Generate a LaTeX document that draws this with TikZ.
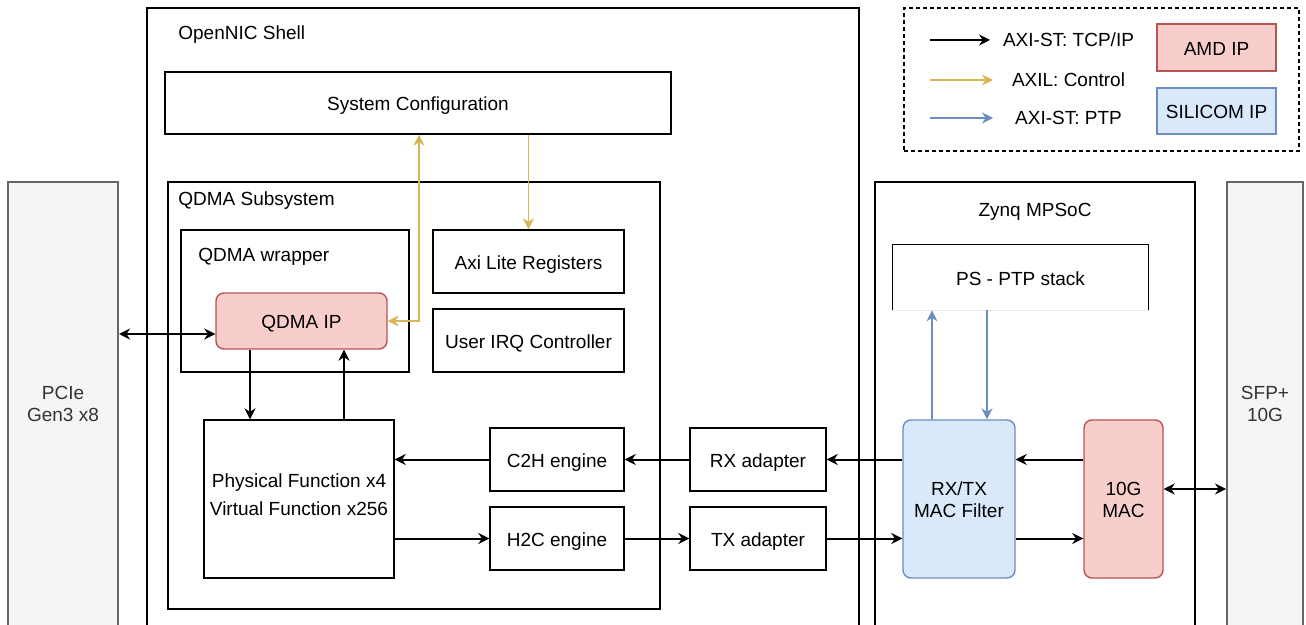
\documentclass[tikz,border=0pt]{standalone}
\usepackage{fontspec}
\setmainfont{Liberation Sans}
\usetikzlibrary{arrows.meta}
\definecolor{amdfill}{HTML}{F8CECC}
\definecolor{amdline}{HTML}{B85450}
\definecolor{silfill}{HTML}{DAE8FC}
\definecolor{silline}{HTML}{6C8EBF}
\definecolor{ctlline}{HTML}{D6B656}
\definecolor{portfill}{HTML}{F5F5F5}
\definecolor{portline}{HTML}{666666}
\definecolor{porttext}{HTML}{333333}
\begin{document}
\begin{tikzpicture}[x=0.5pt,y=-0.5pt,>={Stealth[length=5.5pt,width=5.5pt]},font=\fontsize{9.5}{11}\selectfont,
		lbl/.style={inner sep=0pt,align=center,text height=10pt,text depth=2.2pt},
		twoline/.style={text height=21pt},
		box/.style={lbl,draw,line width=0.7pt},
		amdbox/.style={box,rounded corners=4pt,draw=amdline,fill=amdfill},
		silbox/.style={box,rounded corners=4pt,draw=silline,fill=silfill},
		portbox/.style={box,draw=portline,fill=portfill,line width=1pt},
		tcp/.style={->,line width=1pt},
		ctl/.style={->,ctlline,line width=0.7pt},
		ptpflow/.style={->,silline,line width=0.7pt}]
				\useasboundingbox (0,0) rectangle (1306,625);
				% outer blocks
				\node[portbox,minimum width=55pt,minimum height=223pt] (pcie) at (63,405) {};
				\node[lbl,twoline,text height=20.5pt,text=porttext] (pcielbl) at (63,403) {PCIe\\Gen3 x8};
				\node[portbox,minimum width=38pt,minimum height=223pt] (sfp) at (1265,405) {};
				\node[lbl,twoline,text height=20.5pt,text=porttext] (sfplbl) at (1265,403) {SFP+\\10G};
				\node[box,minimum width=356pt,minimum height=310pt] (shell) at (503,318) {};
				\node[lbl,anchor=west] (shelllbl) at (178,32) {OpenNIC Shell};
				\node[box,minimum width=160pt,minimum height=223pt] (zynq) at (1035,405) {};
				\node[lbl] (zynqlbl) at (1035,209) {Zynq MPSoC};
				% inside the shell
				\node[box,minimum width=253pt,minimum height=31pt] (sysconf) at (418,103) {System Configuration};
				\node[box,minimum width=246pt,minimum height=213.5pt] (subsys) at (414,395.5) {};
				\node[lbl,anchor=west] (subsyslbl) at (178,198) {QDMA Subsystem};
				\node[box,minimum width=114pt,minimum height=71pt] (wrapper) at (295,301) {};
				\node[lbl,anchor=west] (wrapperlbl) at (198,254) {QDMA wrapper};
				\node[amdbox,minimum width=85.5pt,minimum height=28pt] (qdmaip) at (301.5,321) {QDMA IP};
				\node[box,minimum width=95.5pt,minimum height=31.5pt] (axilite) at (528.5,261.5) {Axi Lite Registers};
				\node[box,minimum width=95.5pt,minimum height=31.5pt] (irq) at (528.5,340.5) {User IRQ Controller};
				\node[box,minimum width=95pt,minimum height=79pt,text height=19pt,font=\fontsize{9.5}{14}\selectfont] (pf) at (299,499) {Physical Function x4\\Virtual Function x256};
				\node[box,minimum width=67pt,minimum height=31.5pt] (c2h) at (557,459.5) {C2H engine};
				\node[box,minimum width=67pt,minimum height=31.5pt] (h2c) at (557,538.5) {H2C engine};
				\node[box,minimum width=68pt,minimum height=31.5pt] (rxad) at (758,459.5) {RX adapter};
				\node[box,minimum width=68pt,minimum height=31.5pt] (txad) at (758,538.5) {TX adapter};
				% inside the MPSoC
				\node[lbl,minimum width=127.5pt,minimum height=32.5pt] (ptpstack) at (1020.5,277.5) {PS - PTP stack};
				\draw[line width=0.5pt] (ptpstack.south west) -- (ptpstack.north west) -- (ptpstack.north east) -- (ptpstack.south east);
				\draw[black!8,line width=0.5pt] (ptpstack.south west) -- (ptpstack.south east);
				\node[silbox,twoline,minimum width=56pt,minimum height=79pt] (macf) at (959,499) {RX/TX\\MAC Filter};
				\node[amdbox,twoline,minimum width=39.5pt,minimum height=79pt] (mac) at (1123.5,499) {10G\\MAC};
				% legend
				\node[box,dashed,dash pattern=on 2pt off 1.5pt,minimum width=197.5pt,minimum height=71.5pt] (legend) at (1101.5,79.5) {};
				\node[amdbox,rounded corners=0pt,minimum width=59.5pt,minimum height=23.5pt] (amdkey) at (1216.5,47.5) {AMD IP};
				\node[silbox,rounded corners=0pt,minimum width=59.5pt,minimum height=23pt] (silkey) at (1216.5,111) {SILICOM IP};
				\node (tcpkey) at (1068.5,40) {AXI-ST: TCP/IP};
				\node (ctlkey) at (1068.5,80) {AXIL: Control};
				\node (ptpkey) at (1068.5,118) {AXI-ST: PTP};
				\coordinate (tcpa) at (930,40);
				\coordinate (tcpb) at (990,40);
				\coordinate (ctla) at (930,80);
				\coordinate (ctlb) at (993,80);
				\coordinate (ptpa) at (930,118);
				\coordinate (ptpb) at (993,118);
				\draw[tcp] (tcpa) -- (tcpb);
				\draw[ctl] (ctla) -- (ctlb);
				\draw[ptpflow] (ptpa) -- (ptpb);
				% data path
				\draw[tcp,<->] (pcie.east |- 0,334) -- (qdmaip.west |- 0,334);
				\draw[tcp] (qdmaip.south -| 250,0) -- (pf.north -| 250,0);
				\draw[tcp] (pf.north -| 344,0) -- (qdmaip.south -| 344,0);
				\draw[tcp] (c2h.west) -- (pf.east |- c2h.west);
				\draw[tcp] (rxad.west) -- (c2h.east);
				\draw[tcp] (macf.west |- rxad.east) -- (rxad.east);
				\draw[tcp] (pf.east |- h2c.west) -- (h2c.west);
				\draw[tcp] (h2c.east) -- (txad.west);
				\draw[tcp] (txad.east) -- (macf.west |- txad.east);
				\draw[tcp] (mac.west |- rxad.east) -- (macf.east |- rxad.east);
				\draw[tcp] (macf.east |- txad.east) -- (mac.west |- txad.east);
				\draw[tcp,<->] (mac.east |- 0,489) -- (sfp.west |- 0,489);
				% control and ptp
				\draw[ctl,<->] (qdmaip.east) -| (sysconf.south -| 419,0);
				\draw[ctl] (sysconf.south -| axilite.north) -- (axilite.north);
				\draw[ptpflow] (macf.north -| 932,0) -- (ptpstack.south -| 932,0);
				\draw[ptpflow] (ptpstack.south -| 987,0) -- (macf.north -| 987,0);
		\end{tikzpicture}
\end{document}
